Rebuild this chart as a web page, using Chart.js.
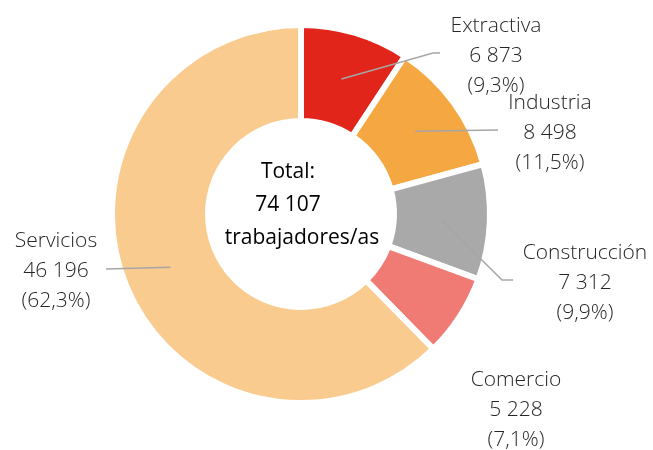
<!DOCTYPE html>
<html>
<head>
<meta charset="utf-8">
<script src="https://cdn.jsdelivr.net/npm/chart.js@4/dist/chart.umd.min.js"></script>
<style>
html,body{margin:0;padding:0;background:#fff;}
canvas{display:block;}
</style>
</head>
<body>
<canvas id="c" width="653" height="450"></canvas>
<script>
// ---- data ----
const categories = ["Extractiva", "Industria", "Construcción", "Comercio", "Servicios"];
const workers = [6873, 8498, 7312, 5228, 46196];
const centerLines = ["Total:", "74 107", "trabajadores/as"];

// ---- style / layout ----
const colors = ["#E1251B", "#F5A742", "#A9A9A9", "#F07B74", "#FACB8E"];
const labelLayout = [
  {x: 496, y: 32, line: [[433, 53], [440, 53]]},
  {x: 550, y: 109, line: [[498, 130]]},
  {x: 585, y: 259, line: [[502, 280], [513, 280]]},
  {x: 516, y: 386, line: null},
  {x: 56, y: 247, line: [[106, 269]]}
];
const centerLayout = [{x: 288, y: 178}, {x: 288, y: 211}, {x: 302, y: 244}];

function fmtInt(n) {
  return String(n).replace(/\B(?=(\d{3})+(?!\d))/g, " ");
}
const total = workers.reduce((a, b) => a + b, 0);

const labelPlugin = {
  id: "labels",
  afterDraw(chart) {
    const ctx = chart.ctx;
    const meta = chart.getDatasetMeta(0);
    ctx.save();
    // leader lines
    ctx.strokeStyle = "#A6A6A6";
    ctx.lineWidth = 1.5;
    meta.data.forEach((arc, i) => {
      const lay = labelLayout[i];
      if (!lay.line) return;
      const p = arc.tooltipPosition();
      ctx.beginPath();
      ctx.moveTo(p.x, p.y);
      lay.line.forEach(pt => ctx.lineTo(pt[0], pt[1]));
      ctx.stroke();
    });
    // labels
    ctx.font = "300 21px 'Open Sans'";
    ctx.fillStyle = "#262626";
    ctx.textAlign = "center";
    ctx.textBaseline = "alphabetic";
    workers.forEach((v, i) => {
      const lay = labelLayout[i];
      const pct = (v / total * 100).toFixed(1).replace(".", ",");
      const lines = [categories[i], fmtInt(v), "(" + pct + "%)"];
      lines.forEach((t, k) => ctx.fillText(t, lay.x, lay.y + k * 30));
    });
    // center text
    ctx.font = "400 21px 'Open Sans'";
    ctx.fillStyle = "#000000";
    centerLines.forEach((t, k) => ctx.fillText(t, centerLayout[k].x, centerLayout[k].y));
    ctx.restore();
  }
};

new Chart(document.getElementById("c"), {
  type: "doughnut",
  data: {
    labels: categories,
    datasets: [{
      data: workers,
      backgroundColor: colors,
      borderColor: "#FFFFFF",
      borderWidth: 6,
      borderJoinStyle: "miter"
    }]
  },
  options: {
    responsive: false,
    devicePixelRatio: 1,
    animation: false,
    cutout: "49.2%",
    layout: {padding: {top: 22, bottom: 44, left: 109, right: 160}},
    plugins: {legend: {display: false}, tooltip: {enabled: false}, title: {display: false}}
  },
  plugins: [labelPlugin]
});
</script>
</body>
</html>
